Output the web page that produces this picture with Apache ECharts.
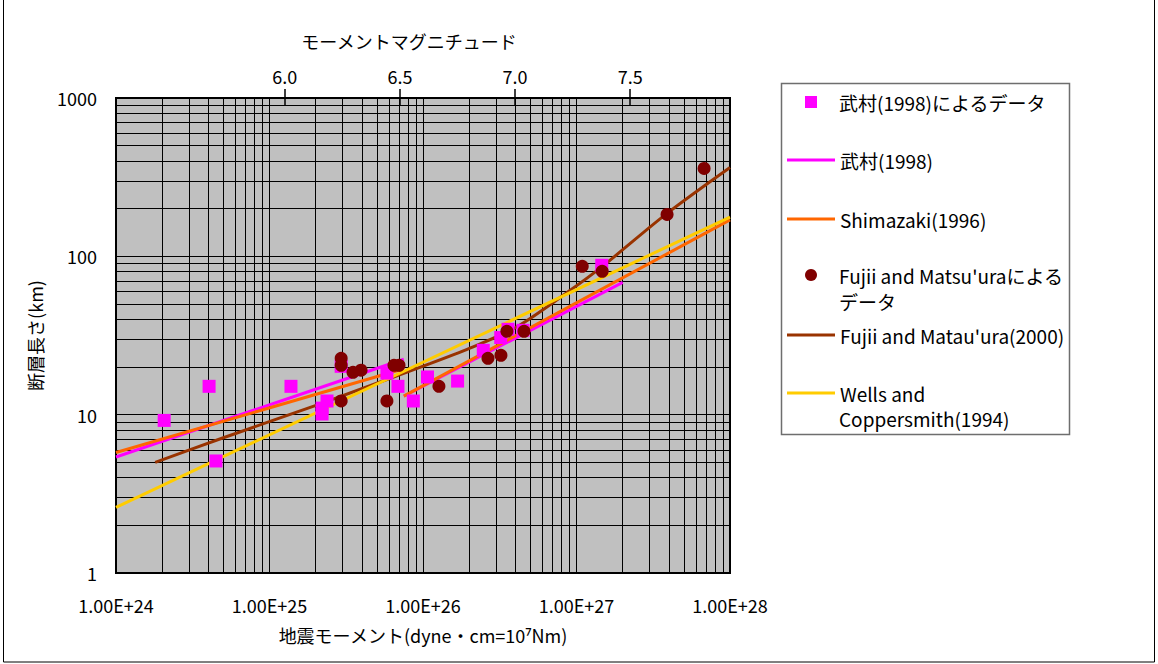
<!DOCTYPE html>
<html>
<head>
<meta charset="utf-8">
<script src="https://cdn.jsdelivr.net/npm/echarts@6.0.0/dist/echarts.min.js"></script>
<style>
  html, body { margin: 0; padding: 0; background: #fff; }
  #chart { width: 1158px; height: 664px; }
</style>
</head>
<body>
<div id="chart"></div>
<script>
// 地震モーメント M0 [dyne·cm] と 断層長さ L [km]
const takemuraM0 = [2.06e24, 4.04e24, 4.48e24, 1.38e25, 2.20e25, 2.20e25, 2.37e25, 2.93e25, 5.82e25,
  6.87e25, 8.65e25, 1.07e26, 1.68e26, 2.47e26, 3.21e26, 3.58e26, 4.48e26, 1.46e27];
const takemuraL = [9.2, 15.1, 5.1, 15.1, 11.0, 10.1, 12.2, 20.2, 18.3,
  15.1, 12.2, 17.3, 16.3, 25.5, 30.7, 34.6, 34.1, 87.8];

const fujiiM0 = [2.93e25, 2.93e25, 3.50e25, 3.95e25, 2.93e25, 5.82e25, 6.47e25, 6.98e25, 1.27e26,
  2.65e26, 3.22e26, 3.52e26, 4.55e26, 1.09e27, 1.47e27, 3.89e27, 6.78e27];
const fujiiL = [22.7, 20.5, 18.5, 19.1, 12.2, 12.2, 20.5, 20.5, 15.1,
  22.7, 23.7, 33.6, 33.6, 86.5, 80.4, 184, 359];

// 経験式 (M0, L) の端点
const takemuraLow = [[1e24, 5.4], [7.5e25, 22.4]];
const takemuraHigh = [[7.5e25, 13.1], [2e27, 68.5]];
const shimazakiLow = [[1e24, 5.77], [7.5e25, 19.5]];
const shimazakiHigh = [[7.5e25, 13.1], [1e28, 170]];
const wellsLine = [[1e24, 2.6], [1e28, 177]];

// Fujii and Matsu'ura (2000) の曲線
const fujiiCurveM0 = [1.8e24, 4.9e24, 2.03e25, 1.11e26, 2.02e26, 4.07e26, 9.1e26, 1.46e27, 3.87e27, 1e28];
const fujiiCurveL = [5.0, 7.1, 11.5, 21.0, 26.3, 35.8, 61, 85.7, 186, 364];

// 軸の目盛
const momentTicks = [1e24, 1e25, 1e26, 1e27, 1e28];
const lengthTicks = [1, 10, 100, 1000];
const magnitudeTicks = [6.0, 6.5, 7.0, 7.5];

const M0_MIN = 1e24, M0_MAX = 1e28, L_MIN = 1, L_MAX = 1000;
// Mw = (log10 M0 - 16.1) / 1.5
const toMw = m0 => (Math.log10(m0) - 16.1) / 1.5;

// 対数目盛の補助線 (1..9 × 10^n)
function logGrid(lo, hi) {
  const out = [];
  for (let e = Math.log10(lo); e < Math.log10(hi); e++) {
    for (let k = 1; k <= 9; k++) out.push(k * Math.pow(10, e));
  }
  out.push(hi);
  return out;
}

const FONT = "'Noto Sans CJK JP', 'Noto Sans', sans-serif";
const LEGEND_FONT_SIZE = 19;
const LEGEND_LINE_HEIGHT = 20;
const NAME_TK_DATA = '武村(1998)によるデータ';
const NAME_TK = '武村(1998)';
const NAME_SH = 'Shimazaki(1996)';
const NAME_FM_DATA = "Fujii and Matsu'uraによるデータ";
const NAME_FM = "Fujii and Matau'ura(2000)";
const NAME_WC = 'Wells and Coppersmith(1994)';

const C_TK = '#FF00FF', C_SH = '#FF6600', C_FM_DATA = '#800000', C_FM = '#993300', C_WC = '#FFCC00';

const pairs = (xs, ys) => xs.map((x, i) => [x, ys[i]]);

// 凡例: 線は 48px の帯、マーカーは 12px の記号を 811px を中心に置く
function legendLine(name, yCenter, label) {
  const lg = {
    data: [{ name, icon: 'rect' }],
    left: 787,
    top: yCenter - LEGEND_LINE_HEIGHT / 2,
    padding: 0,
    itemWidth: 48,
    itemHeight: 3,
    itemGap: 0,
    selectedMode: false,
    textStyle: { fontFamily: FONT, fontSize: LEGEND_FONT_SIZE, color: '#000', lineHeight: LEGEND_LINE_HEIGHT }
  };
  if (label) lg.formatter = () => label;
  return lg;
}

function legendMarker(name, icon, yCenter, label) {
  const lg = {
    data: [{ name, icon }],
    left: 805,
    top: yCenter - LEGEND_LINE_HEIGHT / 2,
    padding: 0,
    itemWidth: 12,
    itemHeight: 12,
    itemGap: 0,
    selectedMode: false,
    textStyle: {
      fontFamily: FONT, fontSize: LEGEND_FONT_SIZE, color: '#000', lineHeight: LEGEND_LINE_HEIGHT,
      padding: [0, 0, 0, 17]
    }
  };
  if (label) lg.formatter = () => label;
  return lg;
}

function lineSeries(name, data, color, smooth) {
  return {
    name, type: 'line', data, symbol: 'none', smooth: smooth || false,
    lineStyle: { color, width: 3, opacity: 1 }, itemStyle: { color, opacity: 1 },
    z: 2, silent: true, animation: false
  };
}

const chart = echarts.init(document.getElementById('chart'), null, { renderer: 'svg' });

chart.setOption({
  animation: false,
  backgroundColor: '#fff',
  textStyle: { fontFamily: FONT, color: '#000' },
  grid: {
    left: 116, right: 428, top: 98, bottom: 91,
    show: true, backgroundColor: '#C0C0C0', borderColor: '#000', borderWidth: 2,
    outerBoundsMode: 'none'
  },
  xAxis: [
    {
      type: 'log', logBase: 10, min: M0_MIN, max: M0_MAX, position: 'bottom',
      name: '地震モーメント(dyne・cm=10⁷Nm)', nameLocation: 'middle', nameGap: 53,
      nameTextStyle: { fontSize: 18, color: '#000', fontFamily: FONT },
      axisLine: { show: true, lineStyle: { color: '#000', width: 2 } },
      axisTick: { show: false, customValues: logGrid(M0_MIN, M0_MAX) },
      axisLabel: {
        customValues: momentTicks, margin: 23, fontSize: 18, color: '#000', hideOverlap: false,
        formatter: v => Number(v).toExponential(2).toUpperCase()
      },
      splitLine: { show: true, lineStyle: { color: '#000', width: 1 } },
      minorTick: { show: false }, minorSplitLine: { show: false }
    },
    {
      type: 'value', min: toMw(M0_MIN), max: toMw(M0_MAX), position: 'top', offset: -7,
      name: 'モーメントマグニチュード', nameLocation: 'middle', nameGap: 55,
      nameTextStyle: { fontSize: 18, color: '#000', fontFamily: FONT, padding: [0, 28, 0, 0] },
      axisLine: { show: false },
      axisTick: { show: true, customValues: magnitudeTicks, length: 16, lineStyle: { color: '#000', width: 1.5 } },
      axisLabel: {
        customValues: magnitudeTicks, margin: 20, fontSize: 18, color: '#000', hideOverlap: false,
        formatter: v => Number(v).toFixed(1)
      },
      splitLine: { show: false }
    }
  ],
  yAxis: [
    {
      type: 'log', logBase: 10, min: L_MIN, max: L_MAX, position: 'left',
      name: '断層長さ(km)', nameLocation: 'middle', nameGap: 72, nameRotate: 90,
      nameTextStyle: { fontSize: 18, color: '#000', fontFamily: FONT },
      axisLine: { show: true, lineStyle: { color: '#000', width: 2 } },
      axisTick: { show: false, customValues: logGrid(L_MIN, L_MAX) },
      axisLabel: {
        customValues: lengthTicks, margin: 19, fontSize: 18, color: '#000', hideOverlap: false,
        formatter: v => String(Math.round(v))
      },
      splitLine: { show: true, lineStyle: { color: '#000', width: 1 } },
      minorTick: { show: false }, minorSplitLine: { show: false }
    }
  ],
  legend: [
    legendMarker(NAME_TK_DATA, 'rect', 102),
    legendLine(NAME_TK, 160),
    legendLine(NAME_SH, 219),
    legendMarker(NAME_FM_DATA, 'circle', 275, "Fujii and Matsu'uraによる"),
    legendLine(NAME_FM, 335),
    legendLine(NAME_WC, 393, 'Wells and')
  ],
  graphic: [
    { type: 'rect', silent: true, z: -1,
      shape: { x: 3.5, y: -2, width: 1151, height: 664 },
      style: { fill: 'none', stroke: '#000', lineWidth: 1 } },
    { type: 'rect', silent: true,
      shape: { x: 781.5, y: 83.5, width: 288, height: 351 },
      style: { fill: 'none', stroke: '#6e6e6e', lineWidth: 1.5 } },
    { type: 'text', silent: true, left: 839, top: 292,
      style: { text: 'データ', font: LEGEND_FONT_SIZE + "px 'Noto Sans CJK JP', sans-serif", fill: '#000' } },
    { type: 'text', silent: true, left: 839, top: 409,
      style: { text: 'Coppersmith(1994)', font: LEGEND_FONT_SIZE + "px 'Noto Sans CJK JP', sans-serif", fill: '#000' } }
  ],
  series: [
    {
      name: NAME_TK_DATA, type: 'scatter', data: pairs(takemuraM0, takemuraL),
      symbol: 'rect', symbolSize: 13, itemStyle: { color: C_TK, opacity: 1 }, z: 4, silent: true
    },
    lineSeries(NAME_TK, takemuraLow, C_TK),
    lineSeries(NAME_TK, takemuraHigh, C_TK),
    lineSeries(NAME_SH, shimazakiLow, C_SH),
    lineSeries(NAME_SH, shimazakiHigh, C_SH),
    {
      name: NAME_FM_DATA, type: 'scatter', data: pairs(fujiiM0, fujiiL),
      symbol: 'circle', symbolSize: 13, itemStyle: { color: C_FM_DATA, opacity: 1 }, z: 5, silent: true
    },
    lineSeries(NAME_FM, pairs(fujiiCurveM0, fujiiCurveL), C_FM, 0.3),
    lineSeries(NAME_WC, wellsLine, C_WC)
  ]
});
</script>
</body>
</html>
